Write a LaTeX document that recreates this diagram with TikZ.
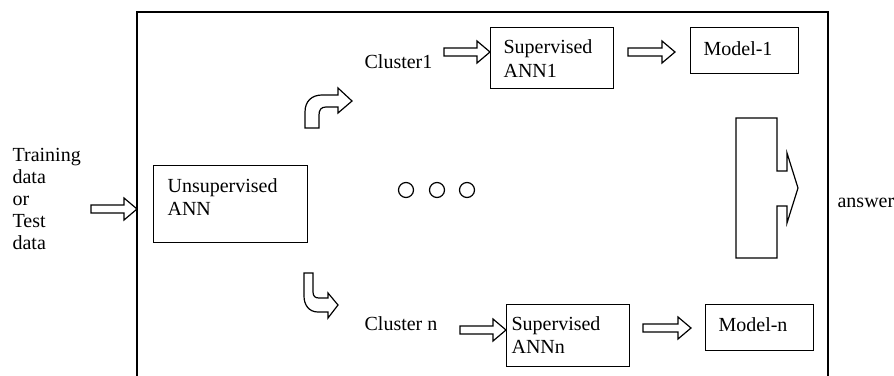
\documentclass[tikz,border=0pt]{standalone}
\usepackage{fontspec}
\setmainfont{Liberation Serif}
\begin{document}
\begin{tikzpicture}[x=1pt,y=-1pt,
  line width=1.2pt,
  box/.style={draw, rectangle, inner sep=0pt, anchor=north west, line width=1.2pt},
  txt/.style={inner sep=0pt, anchor=base west, font=\fontsize{20}{22}\selectfont},
  blk/.style={draw, line width=1.2pt, line join=miter}]
\useasboundingbox (0,0) rectangle (894,375);
% outer frame
\draw[line width=1.2pt] (137,380) -- (137,12) -- (828,12) -- (828,380);
% input text
\node[txt] (t1) at (12,161) {Training};
\node[txt] (t2) at (12,183) {data};
\node[txt] (t3) at (12,205) {or};
\node[txt] (t4) at (12,227) {Test};
\node[txt] (t5) at (12,249) {data};
% boxes
\node[box, minimum width=154pt, minimum height=77pt] (unsup) at (153,165) {};
\node[txt] (unsupA) at (167,192) {Unsupervised};
\node[txt] (unsupB) at (167,215) {ANN};
\node[box, minimum width=123pt, minimum height=61pt] (sup1) at (490,27) {};
\node[txt] (sup1A) at (503,53) {Supervised};
\node[txt] (sup1B) at (503,77) {ANN1};
\node[box, minimum width=108pt, minimum height=46pt] (mod1) at (690,27) {};
\node[txt] (mod1t) at (703,55) {Model-1};
\node[box, minimum width=123pt, minimum height=62pt] (supn) at (506,304) {};
\node[txt] (supnA) at (511,330) {Supervised};
\node[txt] (supnB) at (511,353) {ANNn};
\node[box, minimum width=108pt, minimum height=46pt] (modn) at (705,304) {};
\node[txt] (modnt) at (718,331) {Model-n};
\node[txt] (cl1) at (364,68) {Cluster1};
\node[txt] (cln) at (364,330) {Cluster n};
\node[txt] (ans) at (837,207) {answer};
% block arrows (x1, x2, y)
\newcommand\blockarr[3]{%
  \draw[blk] (#1,#3-4) -- (#2-13,#3-4) -- (#2-13,#3-11) -- (#2,#3) -- (#2-13,#3+11) -- (#2-13,#3+4) -- (#1,#3+4) -- cycle;}
\blockarr{91}{137}{209}
\blockarr{444}{490}{52}
\blockarr{628}{675}{52}
\blockarr{460}{506}{330}
\blockarr{643}{691}{328}
% curved arrow up
\draw[blk] (305,128) -- (305,112) .. controls (305,101) and (312,95) .. (322,95)
  -- (338,95) -- (338,88) -- (352,101) -- (338,113) -- (338,107) -- (326,107)
  .. controls (321,107) and (319,110) .. (319,115) -- (319,128) -- cycle;
% curved arrow down
\draw[blk] (304,273) -- (313,273) -- (313,292) .. controls (313,296) and (315,298) .. (319,298)
  -- (328,298) -- (328,293) -- (338,305) -- (328,318) -- (328,312) -- (318,312)
  .. controls (309,312) and (304,305) .. (304,296) -- cycle;
% combiner
\draw[blk] (736,118) -- (777,118) -- (777,171) -- (787,171) -- (787,153) -- (798,188)
  -- (787,223) -- (787,206) -- (777,206) -- (777,258) -- (736,258) -- cycle;
% dots
\foreach \cx/\nm in {406/c1,437/c2,467/c3}
  \node[draw, circle, minimum size=15pt, inner sep=0pt, line width=1.2pt] (\nm) at (\cx,190) {};
\end{tikzpicture}
\end{document}
